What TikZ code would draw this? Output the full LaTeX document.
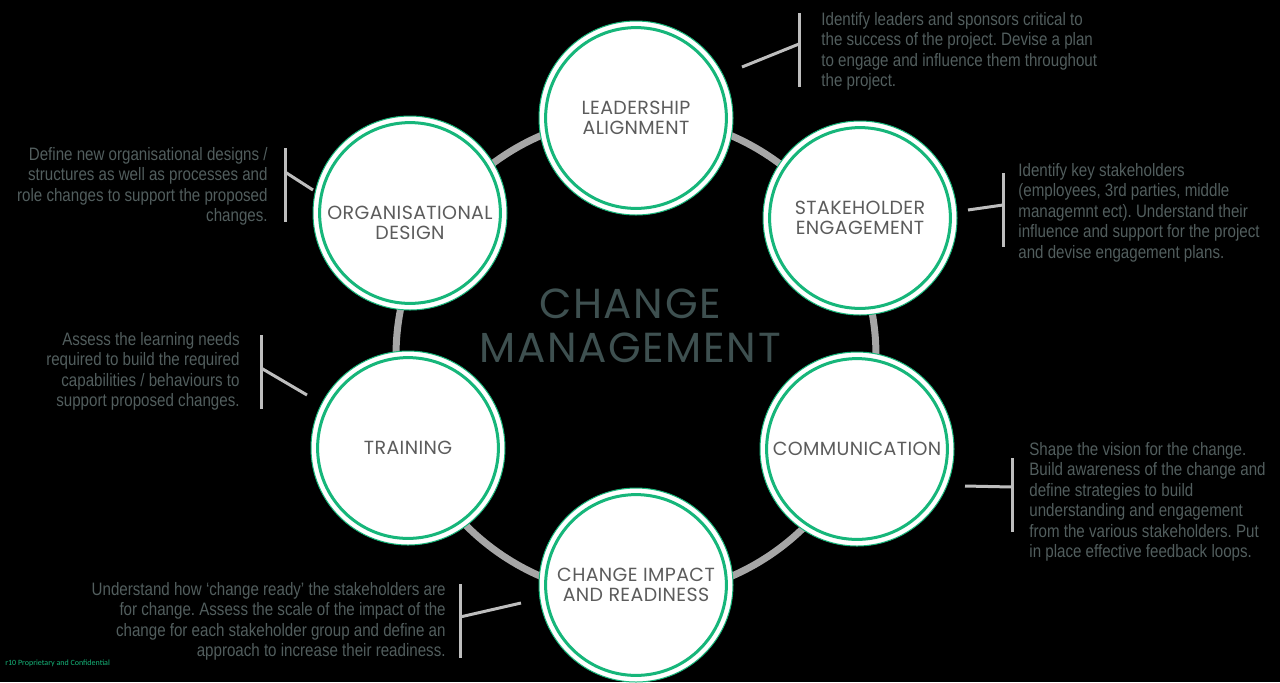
\documentclass[tikz,border=0pt]{standalone}
\usepackage{fontspec}
\setmainfont{Liberation Sans}
\newfontfamily\titlefont[LetterSpace=2]{Poppins}
\newfontfamily\centrefont[LetterSpace=4]{Poppins}
\newfontfamily\descfont[FakeStretch=0.84]{Liberation Sans}
\newfontfamily\footfont{Carlito}
\usetikzlibrary{positioning}
\definecolor{cmgreen}{RGB}{22,182,122}
\definecolor{cmring}{RGB}{166,166,166}
\definecolor{cmtitle}{RGB}{92,92,92}
\definecolor{cmcentre}{RGB}{62,80,80}
\definecolor{cmdesc}{RGB}{82,94,94}
\definecolor{cmbrace}{RGB}{190,190,190}
\frenchspacing

\tikzset{
  stage/.style={circle, fill=white, draw=cmgreen, line width=0.5pt,
    minimum size=97pt, inner sep=0pt, align=center, text=cmtitle,
    font=\titlefont\fontsize{9.5}{10}\selectfont,
    path picture={\draw[cmgreen, line width=1.5pt]
      (path picture bounding box.center) circle[radius=45.2pt];}},
  stagetext/.style={inner sep=0pt, align=center, text=cmtitle,
    font=\titlefont\fontsize{9.5}{10}\selectfont},
  desc/.style={inner sep=0pt, text=cmdesc,
    font=\descfont\fontsize{9}{10.25}\selectfont},
  brace/.style={draw=cmbrace, line width=1.5pt},
}

\begin{document}
\begin{tikzpicture}[x=0.5pt, y=-0.5pt]
  \fill[black] (0,0) rectangle (1280,682);
  \useasboundingbox (0,0) rectangle (1280,682);

  % ring behind the stages
  \draw[cmring, line width=3.5pt] (636,356) circle[radius=120pt];

  % centre title
  \node[font=\centrefont\fontsize{21}{22}\selectfont, text=cmcentre, align=center]
        (centre) at (630,326) {CHANGE\\MANAGEMENT};

  % stages
  \node[stage] (lead)  at (636,118) {LEADERSHIP\\ALIGNMENT};
  \node[stage] (stake) at (860,218) {STAKEHOLDER\\ENGAGEMENT};
  \node[stage] (org)   at (410,213) {};
  \node[stagetext] (orgtitle) at ([yshift=-5pt]org.center) {ORGANISATIONAL\\DESIGN};
  \node[stage] (train) at (408,448) {TRAINING};
  \node[stage] (comm)  at (857,449) {COMMUNICATION};
  \node[stage] (impact) at (636,585) {CHANGE IMPACT\\AND READINESS};

  % descriptions
  \node[desc, anchor=north west, align=left] (leadtxt) at (821,12)
        {Identify leaders and sponsors critical to\\the success of the project. Devise a plan\\to engage and influence them throughout\\the project.};
  \node[desc, anchor=north west, align=left] (staketxt) at (1018,163)
        {Identify key stakeholders\\(employees, 3rd parties, middle\\managemnt ect). Understand their\\influence and support for the project\\and devise engagement plans.};
  \node[desc, anchor=north west, align=left] (commtxt) at (1029,442)
        {Shape the vision for the change.\\Build awareness of the change and\\define strategies to build\\understanding and engagement\\from the various stakeholders. Put\\in place effective feedback loops.};
  \node[desc, anchor=north east, align=right] (orgtxt) at (268,147)
        {Define new organisational designs /\\structures as well as processes and\\role changes to support the proposed\\changes.};
  \node[desc, anchor=north east, align=right] (traintxt) at (240,332)
        {Assess the learning needs\\required to build the required\\capabilities / behaviours to\\support proposed changes.};
  \node[desc, anchor=north east, align=right] (impacttxt) at (446,582)
        {Understand how ‘change ready’ the stakeholders are\\for change. Assess the scale of the impact of the\\change for each stakeholder group and define an\\approach to increase their readiness.};

  % brackets
  \coordinate (leadbar) at (799,44);
  \draw[brace] (799,13) -- (799,87);
  \draw[brace] (742,67) -- (leadbar);
  \coordinate (stakebar) at (1003,205);
  \draw[brace] (1003,173) -- (1003,247);
  \draw[brace] (968,210) -- (stakebar);
  \coordinate (commbar) at (1012,487);
  \draw[brace] (1012,458) -- (1012,532);
  \draw[brace] (965,486) -- (commbar);
  \coordinate (orgbar) at (285,172);
  \draw[brace] (285,148) -- (285,222);
  \draw[brace] (313,190) -- (orgbar);
  \coordinate (trainbar) at (261,368);
  \draw[brace] (261,335) -- (261,409);
  \draw[brace] (307,395) -- (trainbar);
  \coordinate (impactbar) at (460,617);
  \draw[brace] (460,584) -- (460,658);
  \draw[brace] (521,603) -- (impactbar);

  \node[anchor=base west, inner sep=0pt, text=cmgreen,
        font=\footfont\fontsize{4}{4.5}\selectfont] (foot) at (5,665)
        {r10 Proprietary and Confidential};
\end{tikzpicture}
\end{document}
